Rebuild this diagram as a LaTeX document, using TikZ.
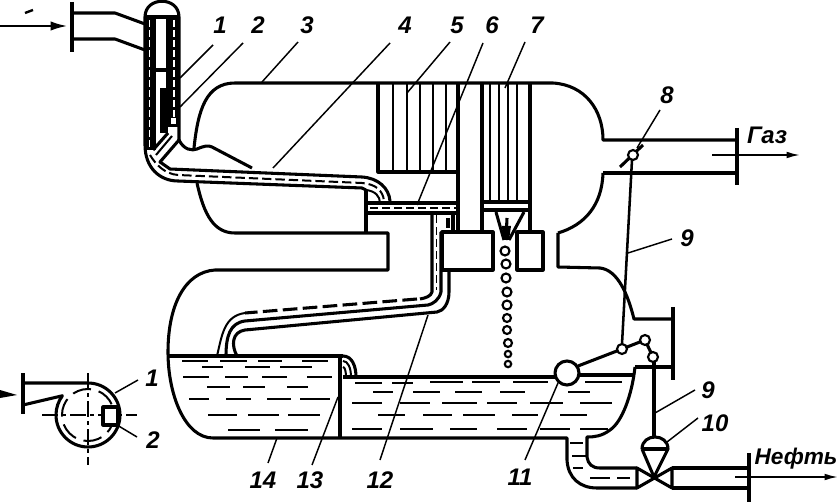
\documentclass[tikz,border=0pt]{standalone}
\usepackage{fontspec}
\setmainfont{Liberation Sans}
\usetikzlibrary{arrows.meta}
\tikzset{
 wall/.style={line width=2.3pt,line join=round},
 thin wall/.style={line width=1.5pt},
 leader/.style={line width=1.1pt},
 dashwall/.style={line width=1.6pt,dash pattern=on 6pt off 3pt},
 whitedash/.style={white,line width=1.1pt,dash pattern=on 5pt off 2.5pt},
 liquid/.style={line width=1.3pt},
 bubble/.style={line width=1.6pt,fill=white},
 lab/.style={font=\bfseries\itshape\fontsize{18}{18}\selectfont,inner sep=0pt},
 flow/.style={line width=1.3pt,-{Latex[length=10pt,width=5pt]}},
 heavyflow/.style={line width=2pt,-{Latex[length=13pt,width=7pt]}}
}
\begin{document}
\begin{tikzpicture}[x=0.75pt,y=-0.75pt]
\useasboundingbox (0,0) rectangle (839,502);
\fill[white] (0,0) rectangle (839,502);
% inlet
\draw[wall] (72,2) -- (72,52);
\draw[wall] (72,13) -- (115,13) -- (145,24);
\draw[wall] (72,39) -- (115,39) -- (145,50);
\draw[heavyflow] (0,26) -- (68,26);
\draw[leader,line width=1.8pt] (25,13) -- (33,10);
% riser
\draw[wall] (145,17) .. controls (145,-4) and (179,-4) .. (179,17) -- (179,140);
\draw[wall] (145,17) -- (179,17);
\fill[black] (144,17) rectangle (155,150);
\fill[black] (168,17) rectangle (179,127);
\draw[whitedash] (149.5,20) -- (149.5,148);
\draw[whitedash] (174,20) -- (174,118);
\fill[white] (171,118) rectangle (176,124);
\draw[wall] (145,17) -- (145,145) .. controls (145,168) and (160,181) .. (178,181) -- (362,188) -- (366,190);
\draw[wall] (154,17) -- (154,150);
\draw[thin wall] (167,17) -- (167,88);
\draw[wall] (154,70) -- (167,70);
\fill[black] (160,88) rectangle (168,133);
\draw[wall] (168,133) -- (153,150);
\draw[wall] (179,140) -- (160,162) -- (170,169) -- (362,177) .. controls (378,178) and (389,188) .. (390,201);
\draw[thin wall,dash pattern=on 7pt off 3pt] (150,155) .. controls (156,165) and (165,174) .. (178,175) -- (362,183) .. controls (375,184) and (383,190) .. (384,201);
\draw[thin wall] (156,155) -- (172,136);
\draw[thin wall] (366,190) .. controls (375,191) and (380,196) .. (380,203);
% upper vessel
\draw[wall] (179,140) .. controls (184,150) and (192,151) .. (197,149) .. controls (204,146) and (208,145) .. (212,147) -- (252,168);
\draw[wall] (194,148) .. controls (198,110) and (206,83) .. (235,83) -- (553,83) .. controls (585,85) and (603,110) .. (603,140) -- (737,140);
\draw[wall] (197,183) .. controls (204,215) and (214,233) .. (235,233) -- (388,233) -- (388,270) -- (215,270) .. controls (185,272) and (168,305) .. (168,352) .. controls (168,395) and (185,438) .. (213,438) -- (567,438) -- (567,460) .. controls (568,478) and (580,488) .. (597,488) -- (637,488);
\draw[wall] (366,190) -- (366,233);
\draw[wall] (737,128) -- (737,185);
\draw[wall] (603,173) -- (737,173);
\draw[wall] (558,233) .. controls (585,225) and (602,205) .. (603,173);
\draw[wall] (558,233) -- (558,267) -- (600,268) .. controls (618,270) and (628,295) .. (634,319) -- (673,319);
% lower right
\draw[wall] (673,307) -- (673,380);
\draw[wall] (635,367) -- (673,367);
\draw[wall] (635,367) .. controls (632,395) and (622,422) .. (610,430) .. controls (602,436) and (595,437) .. (587,437) -- (587,457) .. controls (588,464) and (592,468) .. (600,468) -- (637,468);
% boxes
\draw[wall] (378,83) -- (378,172) -- (458,172);
\foreach \x in {393,407,420,433,446} \draw[thin wall] (\x,83) -- (\x,172);
\draw[wall] (458,83) -- (458,232);
\draw[wall] (482,83) -- (482,232);
\draw[wall] (530,83) -- (530,232);
\foreach \x in {490,499,508,517} \draw[thin wall] (\x,83) -- (\x,203);
\draw[wall] (482,202) -- (530,202);
\draw[wall] (482,210) -- (530,210);
\draw[wall] (496,212) -- (504,240);
\draw[wall] (524,212) -- (509,240);
\draw[wall] (507,218) -- (506,240);
\fill[black] (502,226) -- (511,226) -- (509,240) -- (503,240) -- cycle;
\draw[wall] (442,232) rectangle (493,270);
\draw[wall] (517,232) rectangle (543,270);
% pipe 6
\draw[wall] (368,203) -- (458,203);
\draw[wall] (368,213) -- (458,213);
\draw[dashwall] (370,208) -- (458,208);
% pipe 12
\draw[wall] (449,270) -- (449,292) .. controls (449,304) and (443,311) .. (437,312) -- (245,330) .. controls (232,332) and (231,345) .. (237,356);
\draw[wall] (441,232) -- (441,292) .. controls (439,300) and (433,304) .. (428,305) -- (245,321) .. controls (230,323) and (226,336) .. (226,356);
\draw[wall] (432,213) -- (432,292) .. controls (431,296) and (426,298) .. (420,299);
\draw[wall,dash pattern=on 11pt off 4pt] (417,299) -- (245,313);
\draw[thin wall] (245,313) .. controls (224,316) and (222,335) .. (217,356);
\draw[dashwall,line width=1.2pt] (436.5,215) -- (436.5,290);
\draw[wall] (448,218) -- (448,228);
\draw[wall] (453,213) -- (453,232);
% liquid levels
\draw[wall] (168,356) -- (343,356);
\draw[wall] (340,356) -- (340,438);
\draw[wall] (343,377) -- (556,377);
\draw[wall] (580,375) -- (635,375);
\draw[wall] (343,356) .. controls (352,356) and (356,366) .. (356,377);
\draw[thin wall] (343,361) .. controls (348,361) and (351,368) .. (351,377);
\draw[thin wall] (343,367) .. controls (345,367) and (346,372) .. (346,377);
\foreach \a/\b/\y in {182/208/361,220/247/361,258/282/361,302/328/361,
 202/223/367,245/270/367,280/312/367,
 183/209/377,225/248/377,262/287/377,307/332/377,
 207/230/387,243/265/387,287/308/387,
 189/209/399,226/251/399,267/291/399,300/330/399,
 208/237/415,248/279/415,288/320/415,
 228/260/430,275/308/430,
 355/382/383,392/413/383,430/463/382,472/500/382,513/548/382,585/622/382,
 373/393/392,413/440/392,455/482/392,500/525/392,568/590/392,
 352/382/403,400/430/403,442/477/403,487/517/403,530/563/403,580/612/403,
 378/405/415,423/452/415,463/495/415,512/538/415,560/587/415,
 352/382/429,400/433/429,450/477/429,497/527/429,540/570/429,580/608/429,
 570/583/443,572/586/456,573/583/468,590/610/478,617/630/478}
 \draw[liquid] (\a,\y) -- (\b,\y);
% float and bubbles
\foreach \x/\y/\r in {505/251/4.5,506/264/4.5,506/278/4.5,507/292/4.5,507/305/4.5,507/318/4,507/330/4,508/343/4,508/354/3.2,508/364/3.2}
 \draw[bubble] (\x,\y) circle (\r);
\draw[wall] (578,366) -- (622,349) -- (645,340) -- (653,357);
\draw[wall,fill=white] (567,373) circle (12);
\draw[bubble] (622,349) circle (5);
\draw[bubble] (645,340) circle (5);
\draw[bubble] (653,357) circle (5);
% throttle 8
\draw[wall] (620,167) -- (643,145);
\draw[thin wall,line width=1.9pt] (632,160) -- (622,344);
\draw[bubble] (633,155) circle (5);
% valve 10
\draw[wall] (654,362) -- (654,437);
\draw[wall] (642,449) .. controls (642,433) and (668,433) .. (668,449) -- (654,477) -- (642,449);
\draw[wall] (642,449) -- (668,449);
\draw[wall] (637,468) -- (637,488) -- (672,468) -- (672,488) -- cycle;
\draw[wall] (672,468) -- (748,468);
\draw[wall] (672,488) -- (748,488);
\draw[wall] (749,453) -- (749,502);
\draw[flow] (735,477) -- (838,477);
\draw[flow] (712,155) -- (800,155);
% side view
\fill[black] (0,390) -- (17,395) -- (0,398) -- cycle;
\draw[wall] (23,373) -- (23,414);
\draw[wall] (23,383) -- (88,383) arc[start angle=-90,end angle=217,radius=32] -- (23,405);
\draw[thin wall,dash pattern=on 14pt off 6pt] (88,415) circle (26);
\draw[thin wall,dash pattern=on 12pt off 3pt on 3pt off 3pt] (88,373) -- (88,465);
\draw[thin wall,dash pattern=on 12pt off 3pt on 3pt off 3pt] (42,415) -- (137,415);
\draw[wall,fill=white] (103,407) rectangle (118,425);
% leaders and labels
\node[lab] (n1) at (220,25) {1};
\node[lab] (n2) at (258,25) {2};
\node[lab] (n3) at (307,25) {3};
\node[lab] (n4) at (405,25) {4};
\node[lab] (n5) at (457,25) {5};
\node[lab] (n6) at (492,25) {6};
\node[lab] (n7) at (537,25) {7};
\node[lab] (n8) at (667,95) {8};
\node[lab] (n9a) at (687,238) {9};
\node[lab] (n9b) at (708,390) {9};
\node[lab] (n10) at (715,423) {10};
\node[lab] (n11) at (520,477) {11};
\node[lab] (n12) at (380,480) {12};
\node[lab] (n13) at (310,480) {13};
\node[lab] (n14) at (263,480) {14};
\node[lab] (s1) at (152,378) {1};
\node[lab] (s2) at (153,440) {2};
\node[lab] (gas) at (767,135) {Газ};
\node[lab,font=\bfseries\itshape\fontsize{17}{17}\selectfont] (oil) at (796,459) {Нефть};
\draw[leader] (213,45) -- (180,78);
\draw[leader] (243,43) -- (180,107);
\draw[leader] (298,42) -- (262,82);
\draw[leader] (390,43) -- (273,168);
\draw[leader] (450,42) -- (407,93);
\draw[leader] (483,43) -- (417,205);
\draw[leader] (525,42) -- (505,88);
\draw[leader] (660,110) -- (637,148);
\draw[leader] (672,239) -- (628,253);
\draw[leader] (695,390) -- (655,413);
\draw[leader] (698,418) -- (667,442);
\draw[leader] (558,383) -- (525,460);
\draw[leader] (428,315) -- (380,460);
\draw[leader] (338,397) -- (312,465);
\draw[leader] (277,438) -- (268,463);
\draw[leader] (115,393) -- (138,380);
\draw[leader] (117,425) -- (137,437);
\end{tikzpicture}
\end{document}
